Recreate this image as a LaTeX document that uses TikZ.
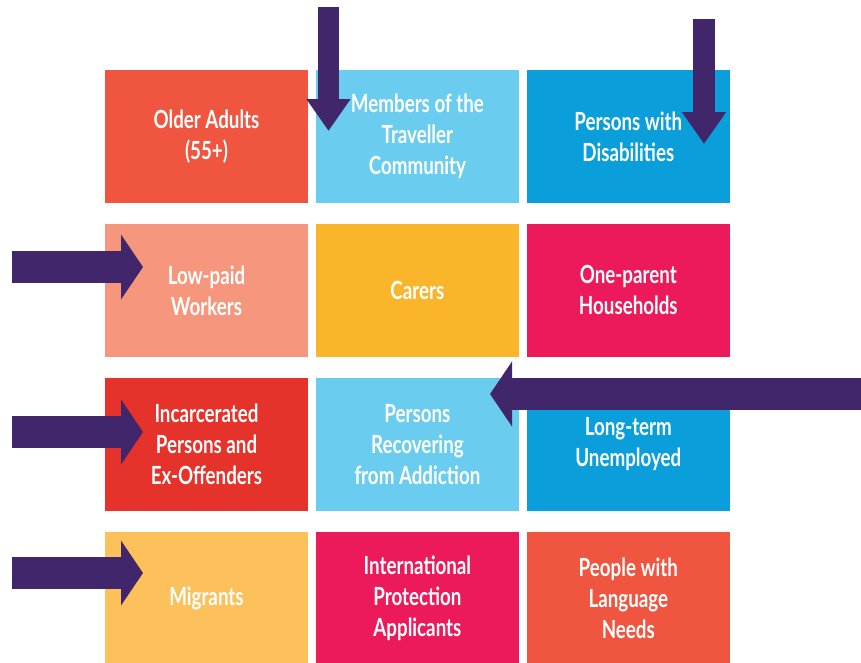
\documentclass[tikz,border=0pt]{standalone}
\usepackage{fontspec}
\setmainfont{Lato}[FakeStretch=0.75]
\usetikzlibrary{positioning,arrows.meta}

\definecolor{coral}{HTML}{EF553F}
\definecolor{skyblue}{HTML}{6ACDF0}
\definecolor{deepblue}{HTML}{0A9FDA}
\definecolor{salmon}{HTML}{F6977D}
\definecolor{amber}{HTML}{FBB52B}
\definecolor{magenta}{HTML}{EC1A5A}
\definecolor{brightred}{HTML}{E5322A}
\definecolor{paleamber}{HTML}{FCC15A}
\definecolor{arrowpurple}{HTML}{42266B}

\begin{document}
\begin{tikzpicture}[x=1pt, y=-1pt, node distance={20.5pt and 7.5pt},
  box/.style = {rectangle, minimum width=203pt, minimum height=133pt, inner sep=0pt, align=center, text=white, font=\bfseries\fontsize{25}{31}\selectfont},
  downptr/.style = {draw=arrowpurple, line width=21.5pt, -{Triangle[length=32pt, width=42pt]}},
  sideptr/.style = {draw=arrowpurple, line width=32pt, -{Triangle[length=22pt, width=64pt]}}]
  \useasboundingbox (0,0) rectangle (861,662);
  % boxes
  \node[box, fill=coral] (older) at (206.5,136.5) {Older Adults\\(55+)};
  \node[box, fill=skyblue] (traveller) [right=of older] {Members of the\\Traveller\\Community};
  \node[box, fill=deepblue] (disab) [right=of traveller] {Persons with\\Disabilities};
  \node[box, fill=salmon] (lowpaid) [below=of older] {Low-paid\\Workers};
  \node[box, fill=amber] (carers) [right=of lowpaid] {Carers};
  \node[box, fill=magenta] (oneparent) [right=of carers] {One-parent\\Households};
  \node[box, fill=brightred] (incarc) [below=of lowpaid] {Incarcerated\\Persons and\\Ex-Offenders};
  \node[box, fill=skyblue] (addict) [right=of incarc] {Persons\\Recovering\\from Addiction};
  \node[box, fill=deepblue] (unemp) [right=of addict] {Long-term\\Unemployed};
  \node[box, fill=paleamber] (migr) [below=of incarc] {Migrants};
  \node[box, fill=magenta] (ipa) [right=of migr] {International\\Protection\\Applicants};
  \node[box, fill=coral] (lang) [right=of ipa] {People with\\Language\\Needs};
  % pointers
  \coordinate (t1) at (328.5,7);
  \coordinate (t2) at (704,19);
  \coordinate (r1) at (861,394);
  \coordinate (l1) at (12,267);
  \coordinate (l2) at (12,432);
  \coordinate (l3) at (12,573);
  \coordinate (h1) at (328.5,131);
  \coordinate (h2) at (704,144);
  \coordinate (h3) at (490,394);
  \coordinate (h4) at (143,267);
  \coordinate (h5) at (143,432);
  \coordinate (h6) at (143,573);
  \draw[downptr] (t1) -- (h1);
  \draw[downptr] (t2) -- (h2);
  \draw[sideptr] (r1) -- (h3);
  \draw[sideptr] (l1) -- (h4);
  \draw[sideptr] (l2) -- (h5);
  \draw[sideptr] (l3) -- (h6);
\end{tikzpicture}
\end{document}
